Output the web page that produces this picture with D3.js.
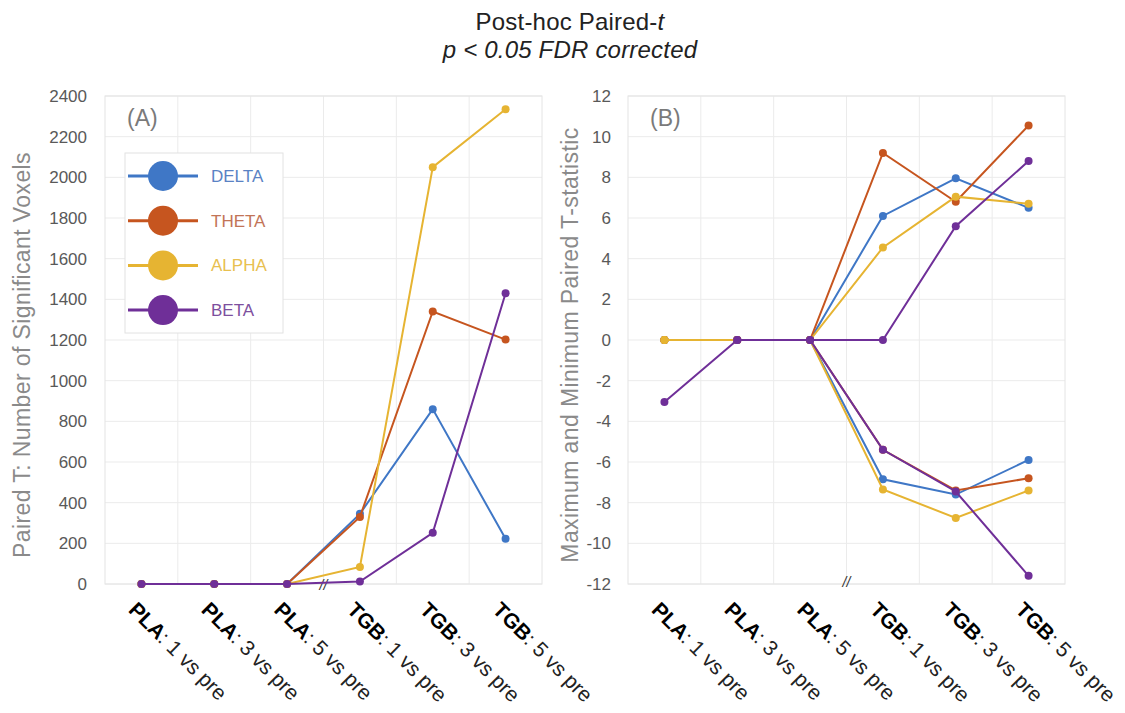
<!doctype html>
<html>
<head>
<meta charset="utf-8">
<style>
    body { margin: 0; background: #fff; }
    svg { display: block; font-family: 'Liberation Sans', Arial, sans-serif; }
    .title { font-size: 24px; fill: #222; letter-spacing: 0.2px; }
    .grid line { stroke: #ebebeb; stroke-width: 1; }
    .frame { fill: none; stroke: #e4e4e4; stroke-width: 1; }
    .tick text { font-size: 17px; fill: #595959; }
    .ylabel { font-size: 23px; fill: #8a8a8a; letter-spacing: 0.4px; }
    .panel { font-size: 23px; fill: #7a7a7a; }
    .xlab { font-size: 21px; fill: #222; }
    .xlab .grp { font-weight: bold; fill: #000; }
    .brk { font-size: 14px; font-style: italic; fill: #333; }
    .legend rect { fill: #fff; stroke: #e2e2e2; }
    .legend text { font-size: 17px; }
</style>
<script src="https://d3js.org/d3.v7.min.js"></script>
</head>
<body>
<svg width="1125" height="713"></svg>
<script>
    const categories = ['PLA: 1 vs pre', 'PLA: 3 vs pre', 'PLA: 5 vs pre', 'TGB: 1 vs pre', 'TGB: 3 vs pre', 'TGB: 5 vs pre']
    const bands = ['DELTA', 'THETA', 'ALPHA', 'BETA']
    const lineColors = ['#3f77c6', '#c6551f', '#e6b432', '#6f2f98']
    const legendColors = ['#5a82c4', '#c27457', '#e8c050', '#7d4f9e']

    // panel A: number of significant voxels
    const voxelsDelta = [0, 0, 0, 345, 860, 222]
    const voxelsTheta = [0, 0, 0, 330, 1340, 1202]
    const voxelsAlpha = [0, 0, 0, 84, 2050, 2335]
    const voxelsBeta = [0, 0, 0, 12, 252, 1430]
    const voxelTicks = d3.range(0, 2401, 200)

    // panel B: max and min paired t
    const tmaxDelta = [0, 0, 0, 6.1, 7.95, 6.5]
    const tmaxTheta = [0, 0, 0, 9.2, 6.8, 10.55]
    const tmaxAlpha = [0, 0, 0, 4.55, 7.05, 6.7]
    const tmaxBeta = [null, 0, 0, 0, 5.6, 8.8]
    const tminDelta = [0, 0, 0, -6.85, -7.6, -5.9]
    const tminTheta = [0, 0, 0, -5.4, -7.4, -6.8]
    const tminAlpha = [0, 0, 0, -7.35, -8.75, -7.4]
    const tminBeta = [-3.05, 0, 0, -5.4, -7.45, -11.6]
    const tTicks = d3.range(-12, 13, 2)

    const svg = d3.select('svg')

    const plotTop = 96, plotBottom = 584, plotWidth = 437

    svg.append('text').attr('class', 'title')
        .attr('x', 570).attr('y', 30).attr('text-anchor', 'middle')
        .call(t => {
            t.append('tspan').text('Post-hoc Paired-')
            t.append('tspan').attr('font-style', 'italic').text('t')
        })
    svg.append('text').attr('class', 'title')
        .attr('x', 570).attr('y', 58).attr('text-anchor', 'middle')
        .attr('font-style', 'italic')
        .text('p < 0.05 FDR corrected')

    function drawPanel(opts) {
        const x = d3.scaleBand().domain(categories).range([opts.left, opts.left + plotWidth])
        const y = d3.scaleLinear().domain(opts.domain).range([plotBottom, plotTop])
        const g = svg.append('g')

        // grid
        const grid = g.append('g').attr('class', 'grid')
        grid.selectAll('.h').data(opts.ticks).enter().append('line')
            .attr('x1', opts.left).attr('x2', opts.left + plotWidth)
            .attr('y1', d => y(d)).attr('y2', d => y(d))
        grid.selectAll('.v').data(categories.slice(1)).enter().append('line')
            .attr('x1', d => x(d)).attr('x2', d => x(d))
            .attr('y1', plotTop).attr('y2', plotBottom)
        g.append('rect').attr('class', 'frame')
            .attr('x', opts.left).attr('y', plotTop)
            .attr('width', plotWidth).attr('height', plotBottom - plotTop)

        // y axis labels
        g.append('g')
            .attr('transform', `translate(${opts.left}, 0)`)
            .call(d3.axisLeft(y).tickValues(opts.ticks).tickSize(0).tickPadding(opts.pad)
                .tickFormat(d => String(d)))
            .call(a => a.select('.domain').remove())
            .call(a => a.attr('font-family', null).attr('font-size', null))

        g.append('text').attr('class', 'ylabel')
            .attr('transform', `translate(${opts.labelX}, ${(plotTop + plotBottom) / 2 + opts.labelDy}) rotate(-90)`)
            .attr('text-anchor', 'middle')
            .text(opts.ylabel)

        g.append('text').attr('class', 'panel')
            .attr('x', opts.left + 22).attr('y', 126)
            .text(opts.name)

        // x labels
        categories.forEach(c => {
            const parts = c.split(': ')
            const t = g.append('text').attr('class', 'xlab')
                .attr('transform', `translate(${x(c) + x.bandwidth() / 2 - 14}, ${plotBottom + 27}) rotate(45)`)
            t.append('tspan').attr('class', 'grp').text(parts[0])
            t.append('tspan').text(': ' + parts[1])
        })

        // axis break mark
        g.append('text').attr('class', 'brk')
            .attr('x', x(categories[3])).attr('y', opts.brkY)
            .attr('text-anchor', 'middle')
            .text('//')

        const line = d3.line()
            .defined(d => d !== null)
            .x((d, i) => x(categories[i]) + x.bandwidth() / 2)
            .y(d => y(d))

        opts.series.forEach(s => {
            g.append('path')
                .attr('d', line(s.values))
                .attr('fill', 'none')
                .attr('stroke', s.color)
                .attr('stroke-width', 2)
            g.selectAll(null).data(s.values.map((v, i) => ({ v, i })).filter(d => d.v !== null))
                .enter().append('circle')
                .attr('cx', d => x(categories[d.i]) + x.bandwidth() / 2)
                .attr('cy', d => y(d.v))
                .attr('r', 4)
                .attr('fill', s.color)
        })
    }

    drawPanel({
        left: 105, domain: [0, 2400], ticks: voxelTicks, pad: 18,
        labelX: 30, labelDy: 15, name: '(A)', brkY: 590,
        ylabel: 'Paired T: Number of Significant Voxels',
        series: [
            { values: voxelsDelta, color: lineColors[0] },
            { values: voxelsTheta, color: lineColors[1] },
            { values: voxelsAlpha, color: lineColors[2] },
            { values: voxelsBeta, color: lineColors[3] }
        ]
    })

    drawPanel({
        left: 628, domain: [-12, 12], ticks: tTicks, pad: 17,
        labelX: 578, labelDy: 5, name: '(B)', brkY: 587,
        ylabel: 'Maximum and Minimum Paired T-statistic',
        series: [
            { values: tmaxDelta, color: lineColors[0] },
            { values: tminDelta, color: lineColors[0] },
            { values: tmaxTheta, color: lineColors[1] },
            { values: tminTheta, color: lineColors[1] },
            { values: tmaxAlpha, color: lineColors[2] },
            { values: tminAlpha, color: lineColors[2] },
            { values: tmaxBeta, color: lineColors[3] },
            { values: tminBeta, color: lineColors[3] }
        ]
    })

    // legend
    const legend = svg.append('g').attr('class', 'legend')
    legend.append('rect').attr('x', 125).attr('y', 153).attr('width', 158).attr('height', 180)
    const items = legend.selectAll('.item').data(bands).enter().append('g')
        .attr('transform', (d, i) => `translate(0, ${176 + i * 44.7})`)
    items.append('line')
        .attr('x1', 128).attr('x2', 198).attr('y1', 0).attr('y2', 0)
        .attr('stroke', (d, i) => lineColors[i]).attr('stroke-width', 3)
    items.append('circle')
        .attr('cx', 163).attr('cy', 0).attr('r', 15)
        .attr('fill', (d, i) => lineColors[i])
    items.append('text')
        .attr('x', 211).attr('y', 6)
        .attr('fill', (d, i) => legendColors[i])
        .text(d => d)
</script>
</body>
</html>
